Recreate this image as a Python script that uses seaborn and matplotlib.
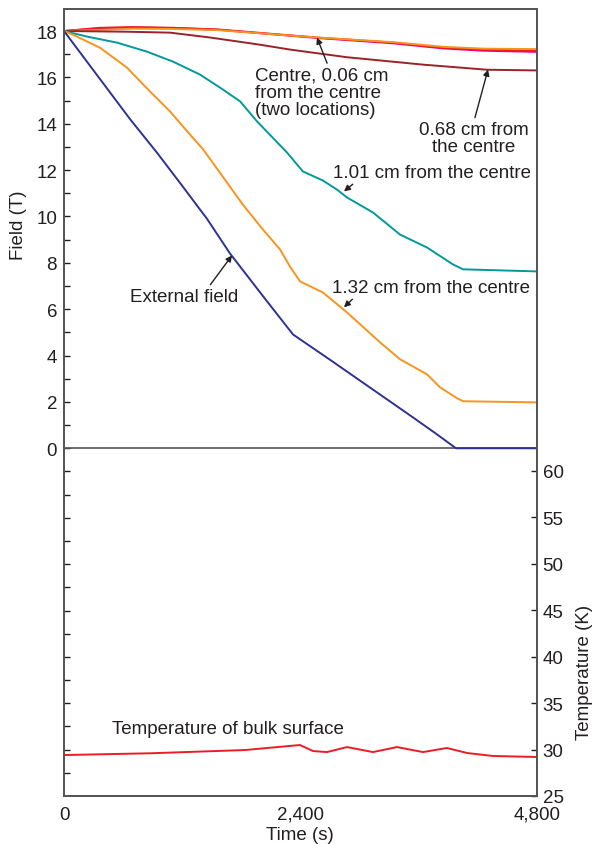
import matplotlib
matplotlib.use("Agg")
import matplotlib.pyplot as plt
import seaborn as sns

sns.set_theme(style="white")
plt.rcParams['font.family'] = ['Liberation Sans', 'DejaVu Sans']

# ---------------- data ----------------
ext_t = [0, 335, 670, 944, 1177, 1451, 1685, 2040, 2324, 2699, 3542, 3785, 3978, 4800]
ext_f = [18.0, 16.1, 14.2, 12.75, 11.45, 9.9, 8.4, 6.45, 4.91, 3.82, 1.33, 0.60, 0.0, 0.0]

r132_t = [0, 91, 365, 639, 873, 1076, 1279, 1411, 1614, 1817, 2006, 2192, 2293, 2395, 2628, 2872,
          3207, 3410, 3684, 3816, 3988, 4049, 4800]
r132_f = [18.0, 17.84, 17.28, 16.42, 15.39, 14.53, 13.53, 12.9, 11.7, 10.5, 9.5, 8.58, 7.84, 7.2,
          6.72, 5.86, 4.57, 3.84, 3.19, 2.63, 2.16, 2.03, 1.98]

r101_t = [0, 233, 538, 842, 1106, 1380, 1583, 1786, 1959, 2263, 2425, 2628, 2770, 2872, 3136, 3410,
          3684, 3948, 4049, 4800]
r101_f = [18.0, 17.76, 17.5, 17.11, 16.68, 16.12, 15.56, 14.97, 14.1, 12.76, 11.94, 11.55, 11.16,
          10.82, 10.17, 9.22, 8.66, 7.93, 7.72, 7.63]

r068_t = [0, 639, 1076, 1482, 1989, 2293, 2870, 3643, 4293, 4800]
r068_f = [18.0, 17.97, 17.93, 17.72, 17.41, 17.2, 16.87, 16.55, 16.33, 16.3]

centre_t = [0, 365, 700, 1100, 1553, 2567, 3339, 3846, 4252, 4800]
centre_f = [18.0, 18.14, 18.17, 18.14, 18.07, 17.72, 17.5, 17.28, 17.2, 17.15]
c006_f = [18.0, 18.12, 18.15, 18.13, 18.06, 17.7, 17.47, 17.25, 17.15, 17.1]
c006b_f = [18.0, 18.05, 18.1, 18.09, 18.04, 17.72, 17.52, 17.32, 17.24, 17.22]

temp_t = [0, 873, 1837, 2395, 2527, 2669, 2872, 3136, 3379, 3643, 3887, 4090, 4353, 4800]
temp_k = [29.41, 29.6, 29.95, 30.49, 29.84, 29.73, 30.27, 29.73, 30.27, 29.73, 30.17, 29.63, 29.31, 29.2]

x_ticks = [0, 2400, 4800]
x_labels = ["0", "2,400", "4,800"]
field_ticks = [0, 2, 4, 6, 8, 10, 12, 14, 16, 18]
temp_ticks = [25, 30, 35, 40, 45, 50, 55, 60]

# ---------------- styling ----------------
TXT = "#231f20"
SPINE = "#555555"
FS = 13.5
c_ext = "#2e3192"
c_132 = "#f7941d"
c_101 = "#00999c"
c_068 = "#9b2226"
c_pink = "#ec008c"
c_red = "#ed1c24"

fig = plt.figure(figsize=(5.95, 8.45), dpi=100)
ax = fig.add_axes([64/595, 1-797/845, (537-64)/595, (797-10)/845])
ax2 = ax.twinx()

lw = 1.4
sns.lineplot(x=centre_t, y=c006_f, ax=ax, color=c_pink, lw=lw, estimator=None)
sns.lineplot(x=centre_t, y=centre_f, ax=ax, color=c_red, lw=lw, estimator=None)
sns.lineplot(x=centre_t, y=c006b_f, ax=ax, color=c_132, lw=lw, estimator=None)
sns.lineplot(x=r068_t, y=r068_f, ax=ax, color=c_068, lw=lw, estimator=None)
sns.lineplot(x=r101_t, y=r101_f, ax=ax, color=c_101, lw=lw, estimator=None)
sns.lineplot(x=r132_t, y=r132_f, ax=ax, color=c_132, lw=lw, estimator=None)
sns.lineplot(x=ext_t, y=ext_f, ax=ax, color=c_ext, lw=lw, estimator=None)
sns.lineplot(x=temp_t, y=temp_k, ax=ax2, color=c_red, lw=lw, estimator=None)

ax.axhline(0, color=SPINE, lw=1.2, zorder=1)

ax.set_xlim(0, 4800)
ax.set_ylim(-15, 18.95)
ax2.set_ylim(25, 109.75)

ax.set_xticks(x_ticks)
ax.set_xticklabels(x_labels)
ax.set_yticks(field_ticks)
ax.set_yticklabels([str(v) for v in field_ticks])
ax.set_yticks(list(range(-14, 18)), minor=True)
ax2.set_yticks(temp_ticks)
ax2.set_yticklabels([str(v) for v in temp_ticks])

for a in (ax, ax2):
    for s in a.spines.values():
        s.set_color(SPINE)
        s.set_linewidth(1.3)
        s.set_visible(True)

ax.tick_params(axis='y', which='both', direction='in', length=4, width=1, color=TXT,
               left=True, right=False, labelsize=FS, labelcolor=TXT, pad=5)
ax.tick_params(axis='x', which='both', direction='in', length=0, labelsize=FS,
               labelcolor=TXT, pad=7)
ax2.tick_params(axis='y', which='both', direction='in', length=4, width=1, color=TXT,
                right=True, left=False, labelsize=FS, labelcolor=TXT, pad=4)

ax.set_xlabel("Time (s)", fontsize=FS, color=TXT)
ax.xaxis.set_label_coords(0.499, -0.038)
ax.set_ylabel("Field (T)", fontsize=FS, color=TXT)
ax.yaxis.set_label_coords(-0.097, 0.727)
ax2.set_ylabel("Temperature (K)", fontsize=FS, color=TXT)
ax2.yaxis.set_label_coords(1.101, 0.158)
ax2.yaxis.label.set_va('center')
ax.yaxis.label.set_va('center')

arrow = dict(arrowstyle='-|>', color=TXT, lw=1.0, mutation_scale=9, shrinkA=0, shrinkB=0)

ax.annotate("Centre, 0.06 cm\nfrom the centre\n(two locations)", xy=(2567, 17.72), xytext=(1938, 16.47),
            fontsize=FS, color=TXT, ha='left', va='top', linespacing=1.02,
            arrowprops=dict(arrow, relpos=(0.55, 1.0)))
ax.annotate("0.68 cm from\nthe centre", xy=(4303, 16.34), xytext=(4161, 14.12),
            fontsize=FS, color=TXT, ha='center', va='top', linespacing=1.02, multialignment='center',
            arrowprops=dict(arrow, relpos=(0.5, 1.0)))
ax.annotate("1.01 cm from the centre", xy=(2841, 11.08), xytext=(2730, 11.9),
            fontsize=FS, color=TXT, ha='left', va='center',
            arrowprops=dict(arrow, relpos=(0.12, 0.0)))
ax.annotate("1.32 cm from the centre", xy=(2841, 6.08), xytext=(2720, 6.94),
            fontsize=FS, color=TXT, ha='left', va='center',
            arrowprops=dict(arrow, relpos=(0.12, 0.0)))
ax.annotate("External field", xy=(1705, 8.32), xytext=(670, 6.55),
            fontsize=FS, color=TXT, ha='left', va='center',
            arrowprops=dict(arrow, relpos=(0.72, 1.0)))
ax2.text(487, 32.32, "Temperature of bulk surface", fontsize=FS, color=TXT, ha='left', va='center')

fig.savefig("out.png", dpi=100)
